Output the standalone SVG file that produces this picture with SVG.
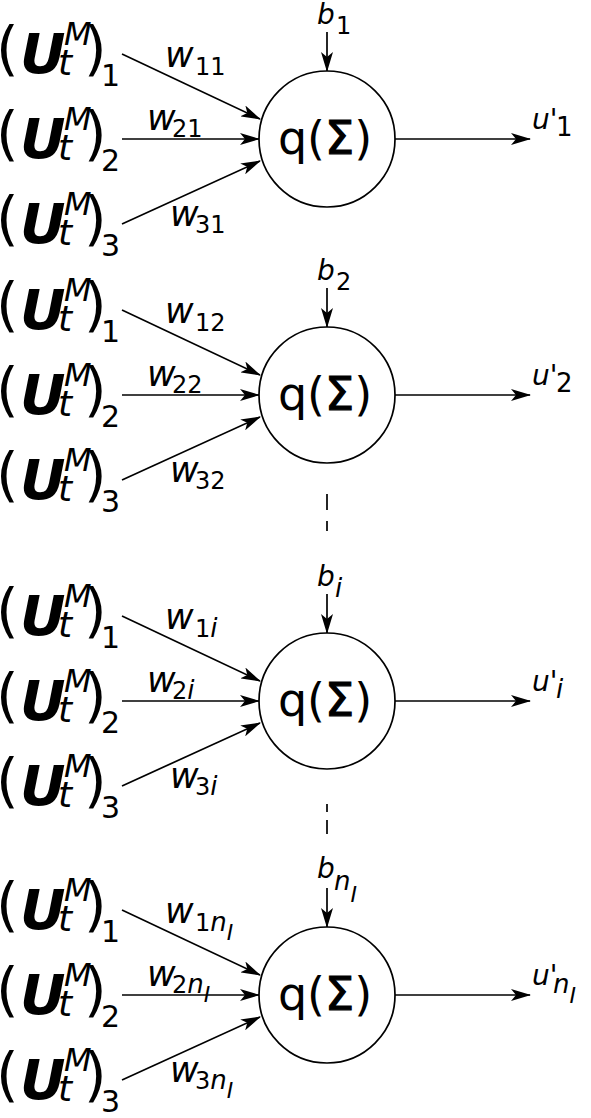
<svg xmlns="http://www.w3.org/2000/svg" width="591" height="1118" viewBox="0 0 591 1118">
<style>
text{font-family:"DejaVu Sans","Liberation Sans",sans-serif;fill:#000}
.par{font-size:58px}
.U{font-size:56px;font-weight:bold;font-style:italic}
.sup{font-size:32px;font-style:italic}
.st{font-size:36px;font-style:italic}
.idx{font-size:30px}
.w{font-size:35px;font-style:italic}
.ws{font-size:24px}
.wi{font-size:26px;font-style:italic}
.us{font-size:26px}
.ss{font-size:22px;font-style:italic}
.b{font-size:28px;font-style:italic}
.q{font-size:46px}
.sg{stroke:#000;stroke-width:1.2}
.node{fill:#fff;stroke:#000;stroke-width:1.7}
.c{fill:none;stroke:#000;stroke-width:1.7}
.d{fill:none;stroke:#000;stroke-width:1.7}
</style>
<defs>
<marker id="ah" markerUnits="userSpaceOnUse" viewBox="0 0 20 12" refX="19" refY="6" markerWidth="20" markerHeight="12" orient="auto">
<path d="M0,0 L20,6 L0,12 L5,6 Z" fill="#000"/>
</marker>
<g id="inrow1"><text><tspan class="par" x="-4" y="69">(</tspan><tspan class="U" x="20" y="73">U</tspan><tspan class="sup" x="64" y="45">M</tspan><tspan class="st" x="58" y="75">t</tspan><tspan class="par" x="84" y="69">)</tspan><tspan class="idx" x="101" y="86">1</tspan></text></g>
<g id="inrow2"><text><tspan class="par" x="-4" y="69">(</tspan><tspan class="U" x="20" y="73">U</tspan><tspan class="sup" x="64" y="45">M</tspan><tspan class="st" x="58" y="75">t</tspan><tspan class="par" x="84" y="69">)</tspan><tspan class="idx" x="101" y="86">2</tspan></text></g>
<g id="inrow3"><text><tspan class="par" x="-4" y="69">(</tspan><tspan class="U" x="20" y="73">U</tspan><tspan class="sup" x="64" y="45">M</tspan><tspan class="st" x="58" y="75">t</tspan><tspan class="par" x="84" y="69">)</tspan><tspan class="idx" x="101" y="86">3</tspan></text></g>
</defs>

<g id="connectors">
<g transform="translate(0,0)">
<path class="c" d="M122,54 L260,119" marker-end="url(#ah)"/>
<path class="c" d="M122,139 L259,139" marker-end="url(#ah)"/>
<path class="c" d="M122,224 L260,161" marker-end="url(#ah)"/>
<path class="c" d="M327,32 L327,71" marker-end="url(#ah)"/>
<path class="c" d="M395,139 L530,139" marker-end="url(#ah)"/>
</g>
<g transform="translate(0,256)">
<path class="c" d="M122,54 L260,119" marker-end="url(#ah)"/>
<path class="c" d="M122,139 L259,139" marker-end="url(#ah)"/>
<path class="c" d="M122,224 L260,161" marker-end="url(#ah)"/>
<path class="c" d="M327,32 L327,71" marker-end="url(#ah)"/>
<path class="c" d="M395,139 L530,139" marker-end="url(#ah)"/>
</g>
<g transform="translate(0,562)">
<path class="c" d="M122,54 L260,119" marker-end="url(#ah)"/>
<path class="c" d="M122,139 L259,139" marker-end="url(#ah)"/>
<path class="c" d="M122,224 L260,161" marker-end="url(#ah)"/>
<path class="c" d="M327,32 L327,71" marker-end="url(#ah)"/>
<path class="c" d="M395,139 L530,139" marker-end="url(#ah)"/>
</g>
<g transform="translate(0,856)">
<path class="c" d="M122,54 L260,119" marker-end="url(#ah)"/>
<path class="c" d="M122,139 L259,139" marker-end="url(#ah)"/>
<path class="c" d="M122,224 L260,161" marker-end="url(#ah)"/>
<path class="c" d="M327,32 L327,71" marker-end="url(#ah)"/>
<path class="c" d="M395,139 L530,139" marker-end="url(#ah)"/>
</g>
<path class="d" d="M327,494 L327,510 M327,521 L327,531"/>
<path class="d" d="M327,804 L327,812 M327,820 L327,834"/>
</g>

<g id="block1">
<g id="n1"><circle class="node" cx="327" cy="139" r="68"/><text class="q" x="325" y="154" text-anchor="middle">q(<tspan class="sg">Σ</tspan>)</text></g>
<g id="in1-1"><use href="#inrow1"/></g>
<g id="in1-2" transform="translate(0,85)"><use href="#inrow2"/></g>
<g id="in1-3" transform="translate(0,170)"><use href="#inrow3"/></g>
<g id="w1-1"><text><tspan class="w" x="165" y="67">w</tspan><tspan class="ws" x="195" y="75">11</tspan></text></g>
<g id="w1-2"><text><tspan class="w" x="147" y="130">w</tspan><tspan class="ws" x="172" y="137">21</tspan></text></g>
<g id="w1-3"><text><tspan class="w" x="170" y="226">w</tspan><tspan class="ws" x="195" y="233">31</tspan></text></g>
<g id="b1"><text><tspan class="b" x="317" y="24">b</tspan><tspan class="ws" x="336" y="34">1</tspan></text></g>
<g id="u1"><text><tspan class="b" x="532" y="129">u'</tspan><tspan class="us" x="556" y="136">1</tspan></text></g>
</g>

<g id="block2" transform="translate(0,256)">
<g id="n2"><circle class="node" cx="327" cy="139" r="68"/><text class="q" x="325" y="154" text-anchor="middle">q(<tspan class="sg">Σ</tspan>)</text></g>
<g id="in2-1"><use href="#inrow1"/></g>
<g id="in2-2" transform="translate(0,85)"><use href="#inrow2"/></g>
<g id="in2-3" transform="translate(0,170)"><use href="#inrow3"/></g>
<g id="w2-1"><text><tspan class="w" x="165" y="67">w</tspan><tspan class="ws" x="195" y="75">12</tspan></text></g>
<g id="w2-2"><text><tspan class="w" x="147" y="130">w</tspan><tspan class="ws" x="172" y="137">22</tspan></text></g>
<g id="w2-3"><text><tspan class="w" x="170" y="226">w</tspan><tspan class="ws" x="195" y="233">32</tspan></text></g>
<g id="b2"><text><tspan class="b" x="317" y="24">b</tspan><tspan class="ws" x="336" y="34">2</tspan></text></g>
<g id="u2"><text><tspan class="b" x="532" y="129">u'</tspan><tspan class="us" x="556" y="136">2</tspan></text></g>
</g>

<g id="block3" transform="translate(0,562)">
<g id="n3"><circle class="node" cx="327" cy="139" r="68"/><text class="q" x="325" y="154" text-anchor="middle">q(<tspan class="sg">Σ</tspan>)</text></g>
<g id="in3-1"><use href="#inrow1"/></g>
<g id="in3-2" transform="translate(0,85)"><use href="#inrow2"/></g>
<g id="in3-3" transform="translate(0,170)"><use href="#inrow3"/></g>
<g id="w3-1"><text><tspan class="w" x="165" y="67">w</tspan><tspan class="ws" x="195" y="75">1</tspan><tspan class="wi">i</tspan></text></g>
<g id="w3-2"><text><tspan class="w" x="147" y="130">w</tspan><tspan class="ws" x="172" y="137">2</tspan><tspan class="wi">i</tspan></text></g>
<g id="w3-3"><text><tspan class="w" x="170" y="226">w</tspan><tspan class="ws" x="195" y="233">3</tspan><tspan class="wi">i</tspan></text></g>
<g id="b3"><text><tspan class="b" x="317" y="24">b</tspan><tspan class="wi" x="335" y="35">i</tspan></text></g>
<g id="u3"><text><tspan class="b" x="532" y="129">u'</tspan><tspan class="wi" x="556" y="136">i</tspan></text></g>
</g>

<g id="block4" transform="translate(0,856)">
<g id="n4"><circle class="node" cx="327" cy="139" r="68"/><text class="q" x="325" y="154" text-anchor="middle">q(<tspan class="sg">Σ</tspan>)</text></g>
<g id="in4-1"><use href="#inrow1"/></g>
<g id="in4-2" transform="translate(0,85)"><use href="#inrow2"/></g>
<g id="in4-3" transform="translate(0,170)"><use href="#inrow3"/></g>
<g id="w4-1"><text><tspan class="w" x="165" y="67">w</tspan><tspan class="ws" x="195" y="75">1</tspan><tspan class="wi">n</tspan><tspan class="ss" dy="9">I</tspan></text></g>
<g id="w4-2"><text><tspan class="w" x="147" y="130">w</tspan><tspan class="ws" x="172" y="137">2</tspan><tspan class="wi">n</tspan><tspan class="ss" dy="9">I</tspan></text></g>
<g id="w4-3"><text><tspan class="w" x="170" y="226">w</tspan><tspan class="ws" x="195" y="233">3</tspan><tspan class="wi">n</tspan><tspan class="ss" dy="9">I</tspan></text></g>
<g id="b4"><text><tspan class="b" x="317" y="22">b</tspan><tspan class="wi" x="334" y="34">n</tspan><tspan class="ss" dy="12">I</tspan></text></g>
<g id="u4"><text><tspan class="b" x="532" y="129">u'</tspan><tspan class="wi" x="553" y="137">n</tspan><tspan class="ss" dy="10">I</tspan></text></g>
</g>
</svg>
